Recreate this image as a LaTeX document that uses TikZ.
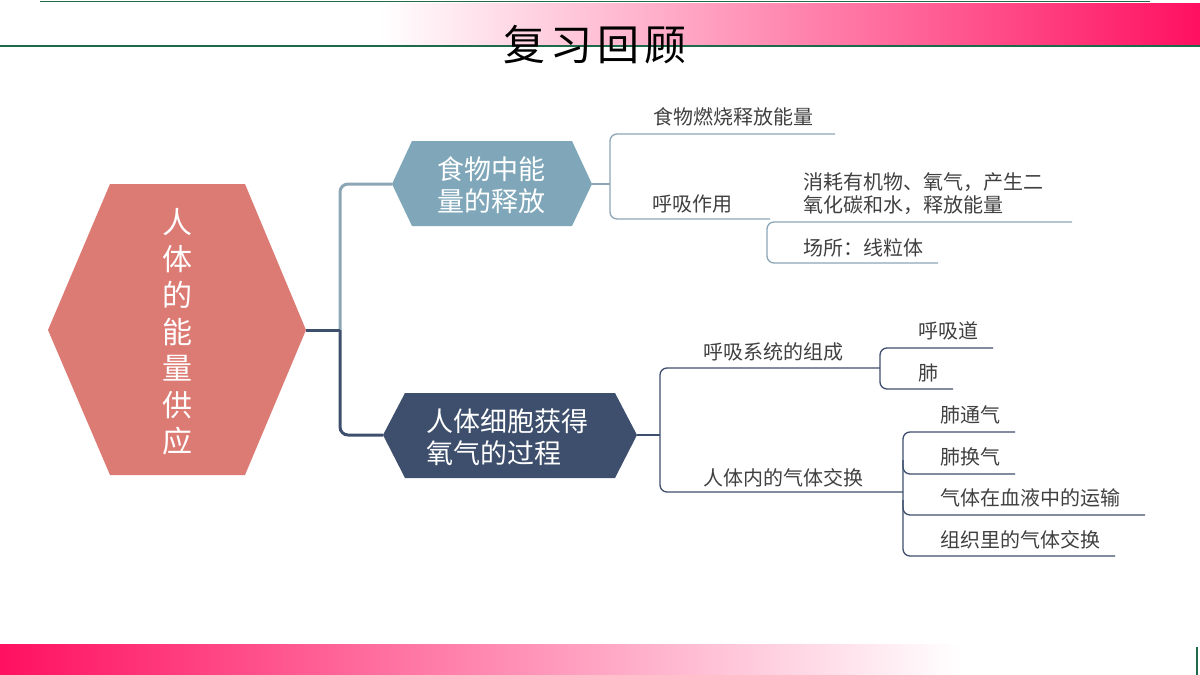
\documentclass[tikz,border=0pt]{standalone}
\usepackage{fontspec}
\setmainfont{Noto Sans CJK SC}
\definecolor{bigpink}{RGB}{220,123,116}
\definecolor{hexone}{RGB}{127,167,185}
\definecolor{navy}{RGB}{61,79,108}
\definecolor{lineblue}{RGB}{140,166,182}
\definecolor{textgray}{RGB}{64,64,64}
\definecolor{barpink}{RGB}{255,16,96}
\definecolor{bargreen}{RGB}{30,107,74}
\begin{document}
\begin{tikzpicture}[x=1pt,y=-1pt,
  leaf/.style={anchor=west, inner sep=0pt, text=textgray, font=\fontsize{20}{23}\selectfont},
  hextext/.style={text=white, inner sep=0pt, font=\fontsize{27}{32}\selectfont},
  lightbr/.style={draw=lineblue, line width=1.3pt, rounded corners=7pt},
  darkbr/.style={draw=navy, line width=1.3pt, rounded corners=7pt},
  mainline/.style={line width=3pt, rounded corners=8pt}]
\useasboundingbox (0,0) rectangle (1200,675);
% top band
\shade[left color=white, right color=barpink] (380,3) rectangle (1200,44);
\draw[bargreen, line width=1.8pt] (40,1.5) -- (1150,1.5);
\draw[bargreen, line width=2pt] (0,45.5) -- (1200,45.5);
% bottom band
\shade[left color=barpink, right color=white] (0,644) rectangle (960,675);
\draw[bargreen, line width=2.5pt] (1197,647) -- (1197,675);
% title
\node[inner sep=0pt, font=\fontsize{42}{42}\selectfont] (title) at (595,45) {复\kern5pt 习\kern5pt 回\kern5pt 顾};
% big hexagon
\fill[bigpink] (48,330) -- (110,184) -- (245,184) -- (306,330) -- (245,475) -- (110,475) -- cycle;
\node[text=white, inner sep=0pt, align=center, font=\fontsize{30}{36.5}\selectfont] (big) at (177,332) {人\\体\\的\\能\\量\\供\\应};
\coordinate (bigR) at (306,330);
% hexagon 1
\fill[hexone] (392,184) -- (412,141) -- (572,141) -- (592,184) -- (572,226) -- (412,226) -- cycle;
\node[hextext, align=center] (h1) at (491,185) {食物中能\\量的释放};
\coordinate (h1L) at (392,184);
\coordinate (h1R) at (592,184);
% hexagon 2
\fill[navy] (383,435) -- (405,393) -- (615,393) -- (637,435) -- (615,478) -- (405,478) -- cycle;
\node[hextext, align=left, anchor=west] (h2) at (426,437) {人体细胞获得\\氧气的过程};
\coordinate (h2L) at (383,435);
\coordinate (h2R) at (637,435);
% main connectors
\coordinate (j1) at (340,330);
\draw[mainline, lineblue] (j1) |- (h1L);
\draw[mainline, navy] (j1) |- (h2L);
\draw[line width=3pt, navy] (bigR) -- (j1);
% branch of hexagon 1
\coordinate (b1) at (610,184);
\draw[lineblue, line width=1.3pt] (h1R) -- (b1);
\coordinate (u1a) at (835,134);
\coordinate (u1b) at (770,219);
\draw[lightbr] (u1a) -- (610,134) -- (610,219) -- (u1b);
\node[leaf] (burn) at (653,117) {食物燃烧释放能量};
\node[leaf] (resp) at (652,204) {呼吸作用};
\coordinate (u2a) at (1072,222);
\coordinate (u2b) at (938,263);
\draw[lightbr] (u2a) -- (767,222) -- (767,263) -- (u2b);
\node[leaf, align=left] (consume) at (803,194) {消耗有机物、氧气，产生二\\氧化碳和水，释放能量};
\node[leaf] (site) at (803,248) {场所：线粒体};
% branch of hexagon 2
\coordinate (b2) at (660,435);
\draw[navy, line width=1.3pt] (h2R) -- (b2);
\coordinate (u3a) at (880,368);
\coordinate (u3b) at (903,492);
\draw[darkbr] (u3a) -- (660,368) -- (660,492) -- (u3b);
\node[leaf] (sys) at (703,352) {呼吸系统的组成};
\node[leaf] (gas) at (703,478) {人体内的气体交换};
\coordinate (u4a) at (993,348);
\coordinate (u4b) at (953,389);
\draw[darkbr] (u4a) -- (880,348) -- (880,389) -- (u4b);
\node[leaf] (tract) at (918,331) {呼吸道};
\node[leaf] (lung) at (918,373) {肺};
\coordinate (u5a) at (1015,432);
\coordinate (u5b) at (1115,556);
\draw[darkbr] (u5a) -- (903,432) -- (903,556) -- (u5b);
\coordinate (u5c) at (1015,474);
\coordinate (u5d) at (1145,515);
\draw[darkbr] (903,460) -- (903,474) -- (u5c);
\draw[darkbr] (903,500) -- (903,515) -- (u5d);
\node[leaf] (vent) at (940,415) {肺通气};
\node[leaf] (exch) at (940,457) {肺换气};
\node[leaf] (blood) at (940,498) {气体在血液中的运输};
\node[leaf] (tissue) at (940,540) {组织里的气体交换};
\end{tikzpicture}
\end{document}
